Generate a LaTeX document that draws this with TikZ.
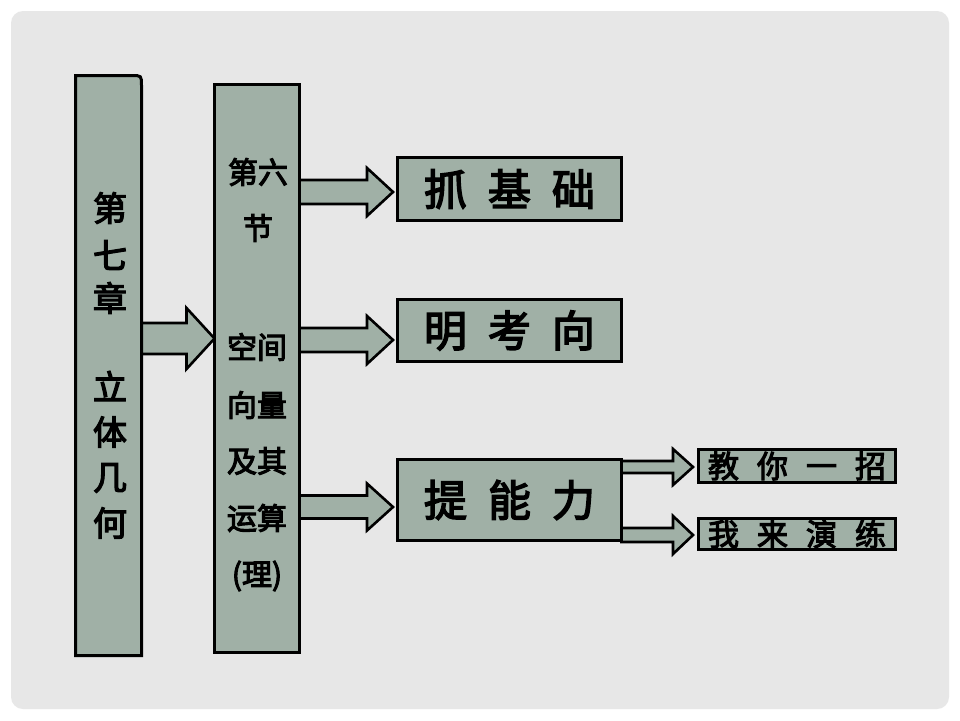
\documentclass[tikz,border=0pt]{standalone}
\usepackage{fontspec}
\newfontfamily\cjk[FakeBold=3.5]{Noto Sans CJK SC}
\usetikzlibrary{calc}
\definecolor{pagebg}{RGB}{231,231,231}
\definecolor{boxfill}{RGB}{160,176,166}
\pgfdeclarelayer{back}\pgfdeclarelayer{arr}\pgfsetlayers{back,arr,main}
\newcommand{\blockarrow}[6]{% src, dst, y, shaft half, head half, head length
  \coordinate (ay) at (0,#3);
  \begin{pgfonlayer}{arr}
  \draw[blockarr] ($(#1|-ay)+(0,-#4)$) -- ($(#2|-ay)+(-#6,-#4)$) -- ($(#2|-ay)+(-#6,-#5)$)
     -- (#2|-ay) -- ($(#2|-ay)+(-#6,#5)$) -- ($(#2|-ay)+(-#6,#4)$) -- ($(#1|-ay)+(0,#4)$) -- cycle;
  \end{pgfonlayer}
}
\begin{document}
\begin{tikzpicture}[x=1pt,y=-1pt,
  box/.style={draw=black, line width=3pt, fill=boxfill, inner sep=0pt, outer sep=0pt},
  blockarr/.style={draw=black, line width=2.6pt, fill=boxfill, line join=miter},
  txtA/.style={inner sep=0pt, font=\cjk\fontsize{34pt}{34pt}\selectfont},
  txtB/.style={inner sep=0pt, font=\cjk\fontsize{30pt}{30pt}\selectfont},
  txtC/.style={inner sep=0pt, font=\cjk\fontsize{43pt}{43pt}\selectfont},
  txtD/.style={inner sep=0pt, font=\cjk\fontsize{31pt}{31pt}\selectfont}
]
\begin{pgfonlayer}{back}
\fill[white] (0,0) rectangle (960,720);
\fill[pagebg, rounded corners=12pt] (11,11) rectangle (949,709);
\end{pgfonlayer}
\useasboundingbox (0,0) rectangle (960,720);

% boxes
\node[box, draw=none, fill=none, minimum width=66pt, minimum height=580pt] (ch) at (108.5,365.5) {};
\draw[box] (ch.south west) -- (ch.north west) -- ([xshift=-10pt]ch.north east)
  .. controls (ch.north east) .. ([yshift=-10pt]ch.north east) -- (ch.south east) -- cycle;
\node[box, minimum width=85pt, minimum height=568pt] (sec) at (257,368.5) {};
\node[box, minimum width=224pt, minimum height=63pt] (b1) at (509.5,189) {};
\node[box, minimum width=224pt, minimum height=62pt] (b2) at (509.5,330.5) {};
\node[box, minimum width=224pt, minimum height=81pt] (b3) at (509.5,500) {};
\node[box, minimum width=197pt, minimum height=33pt] (s1) at (797,466) {};
\node[box, minimum width=197pt, minimum height=31pt] (s2) at (797,534) {};

% arrow tips
\coordinate (t1) at ([xshift=-4.5pt]b1.west);
\coordinate (t2) at ([xshift=-4.5pt]b2.west);
\coordinate (t3) at ([xshift=-4.5pt]b3.west);
\coordinate (t4) at ([xshift=-5.5pt]s1.west);
\coordinate (t5) at ([xshift=-5.5pt]s2.west);

\blockarrow{ch.east}{sec.west}{338.5}{15.5}{30.5}{28}
\blockarrow{sec.east}{t1}{192}{12}{24}{26}
\blockarrow{sec.east}{t2}{340}{12}{24}{26}
\blockarrow{sec.east}{t3}{507}{11.5}{23.5}{26}
\blockarrow{b3.east}{t4}{467}{6}{18}{20}
\blockarrow{b3.east}{t5}{535}{7}{19}{20}

% chapter text
\node[txtA] (L1) at (110,208) {第};
\node[txtA] (L2) at (110,255) {七};
\node[txtA] (L3) at (110,298) {章};
\node[txtA] (L4) at (110,386) {立};
\node[txtA] (L5) at (110,432) {体};
\node[txtA] (L6) at (110,478) {几};
\node[txtA] (L7) at (110,523) {何};

% section text
\node[txtB] (M1) at (258,172) {第六};
\node[txtB] (M2) at (258,228) {节};
\node[txtB] (M3) at (257,347) {空间};
\node[txtB] (M4) at (257,405) {向量};
\node[txtB] (M5) at (257,461) {及其};
\node[txtB] (M6) at (257,518) {运算};
\node[txtB] (M7) at (257,576) {(理)};

% big box labels
\node[txtC] (B1) at (b1.center) {抓\hspace{21pt}基\hspace{21pt}础};
\node[txtC] (B2) at (b2.center) {明\hspace{21pt}考\hspace{21pt}向};
\node[txtC] (B3) at (b3.center) {提\hspace{21pt}能\hspace{21pt}力};

% small box labels
\node[txtD] (S1) at (s1.center) {教\hspace{18pt}你\hspace{18pt}一\hspace{18pt}招};
\node[txtD] (S2) at (s2.center) {我\hspace{18pt}来\hspace{18pt}演\hspace{18pt}练};
\end{tikzpicture}
\end{document}
